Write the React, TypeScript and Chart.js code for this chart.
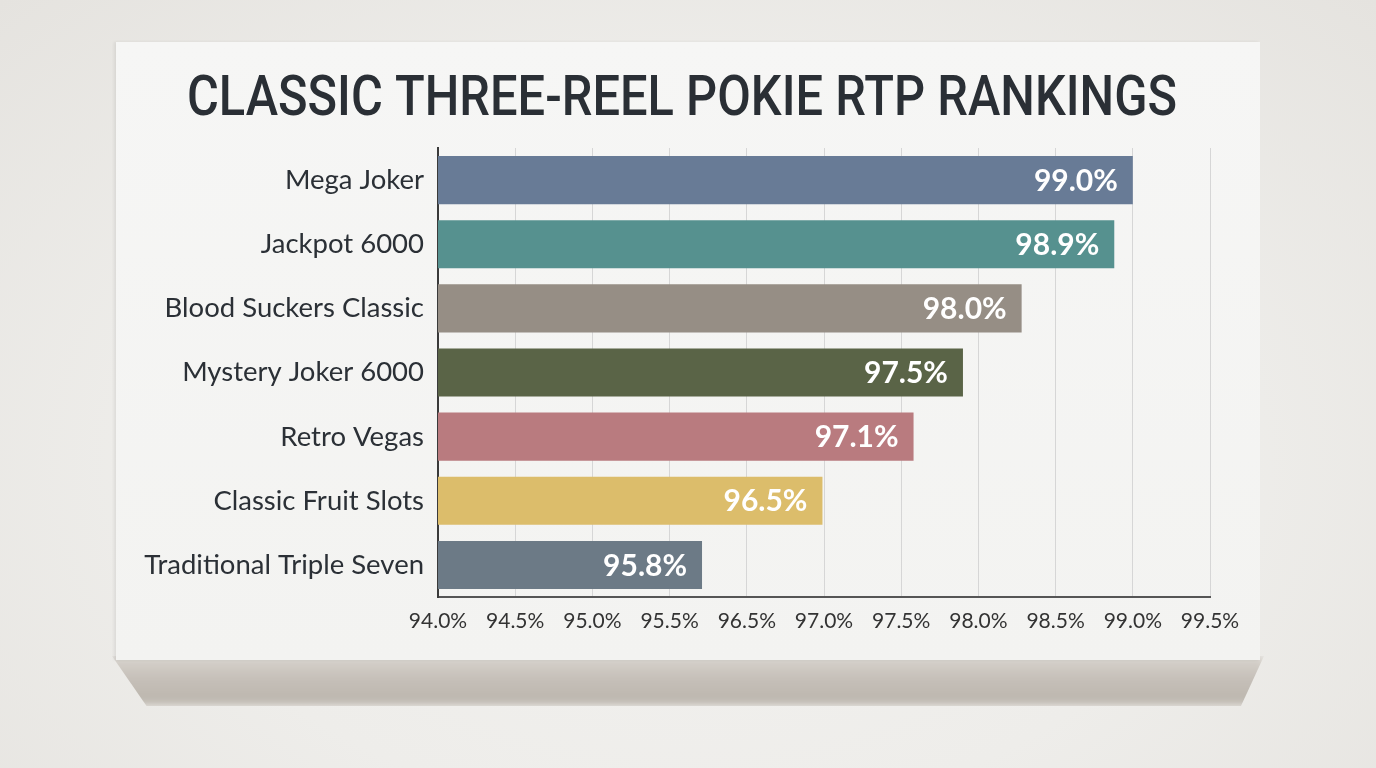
import React, { useEffect, useRef } from "react";
import { Chart, registerables } from "chart.js";

Chart.register(...registerables);

const TITLE = "CLASSIC THREE-REEL POKIE RTP RANKINGS";
const games = [
  "Mega Joker",
  "Jackpot 6000",
  "Blood Suckers Classic",
  "Mystery Joker 6000",
  "Retro Vegas",
  "Classic Fruit Slots",
  "Traditional Triple Seven",
];
// bar lengths as read against the axis gridlines
const barValues = [98.5, 98.38, 97.78, 97.4, 97.08, 96.49, 95.71];
// labels printed inside the bars
const rtpLabels = ["99.0%", "98.9%", "98.0%", "97.5%", "97.1%", "96.5%", "95.8%"];
const barColors = ["#687b96", "#56918f", "#968e85", "#5a6447", "#b97b7f", "#dcbd6b", "#6c7a86"];
// tick labels as printed under the axis
const tickLabels = ["94.0%", "94.5%", "95.0%", "95.5%", "96.5%", "97.0%", "97.5%", "98.0%", "98.5%", "99.0%", "99.5%"];
const axisMin = 94;
const axisMax = 99;
const axisStep = 0.5;

const CARD_W = 1144;
const CARD_H = 618;

const titlePlugin = {
  id: "condensedTitle",
  afterDraw(chart: any) {
    const ctx = chart.ctx;
    ctx.save();
    ctx.font = "500 56px Roboto";
    const w = ctx.measureText(TITLE).width;
    ctx.translate(566, 73);
    ctx.scale(990 / w, 1);
    ctx.textAlign = "center";
    ctx.textBaseline = "alphabetic";
    ctx.fillStyle = "#2a2f35";
    ctx.fillText(TITLE, 0, 0);
    ctx.restore();
  },
};

const valueLabelPlugin = {
  id: "valueLabels",
  afterDatasetsDraw(chart: any) {
    const ctx = chart.ctx;
    const meta = chart.getDatasetMeta(0);
    ctx.save();
    ctx.font = "bold 30px Lato";
    ctx.fillStyle = "#ffffff";
    ctx.textAlign = "right";
    ctx.textBaseline = "middle";
    meta.data.forEach((bar: any, i: number) => {
      ctx.fillText(rtpLabels[i], bar.x - 15, bar.y + 1);
    });
    ctx.restore();
  },
};

export default function App() {
  const ref = useRef<HTMLCanvasElement | null>(null);

  useEffect(() => {
    if (!ref.current) return;
    const chart = new Chart(ref.current, {
      type: "bar",
      data: {
        labels: games,
        datasets: [
          {
            data: barValues,
            backgroundColor: barColors,
            borderWidth: 0,
            barPercentage: 0.75,
            categoryPercentage: 1,
          },
        ],
      },
      options: {
        indexAxis: "y",
        responsive: false,
        animation: false,
        layout: { padding: { top: 106, right: 50, bottom: 0, left: 0 } },
        plugins: {
          legend: { display: false },
          tooltip: { enabled: false },
          title: { display: false },
        },
        scales: {
          x: {
            type: "linear",
            min: axisMin,
            max: axisMax,
            afterFit(scale: any) {
              scale.height = 63;
            },
            ticks: {
              stepSize: axisStep,
              callback: (_v: any, i: number) => tickLabels[i],
              font: { family: "Lato", size: 21 },
              color: "#333333",
              padding: 12,
              maxRotation: 0,
            },
            grid: { color: "#d6d6d6", lineWidth: 1, drawTicks: false },
            border: { display: true, color: "#555555", width: 2 },
          },
          y: {
            type: "category",
            afterFit(scale: any) {
              scale.width = 322;
            },
            ticks: {
              font: { family: "Lato", size: 27.5 },
              color: "#2b3036",
              padding: 14,
            },
            grid: { display: false, drawTicks: false },
            border: { display: true, color: "#3a3a3a", width: 2 },
          },
        },
      },
      plugins: [titlePlugin, valueLabelPlugin],
    });
    return () => chart.destroy();
  }, []);

  return (
    <div
      style={{
        position: "fixed",
        left: 0,
        top: 0,
        width: 1376,
        height: 768,
        overflow: "hidden",
        background: "radial-gradient(ellipse at 50% 60%, #f3f2f0 0%, #eeedea 55%, #e5e3df 100%)",
      }}
    >
      <div
        style={{
          position: "absolute",
          left: 112,
          top: 656,
          width: 1152,
          height: 50,
          background: "linear-gradient(to bottom, #d8d4ce 0%, #c6c0b9 45%, #bdb7af 85%, #cdc8c2 100%)",
          clipPath: "polygon(0 0, 100% 0, 98% 100%, 3% 100%)",
          filter: "blur(3px)",
        }}
      />
      <div
        style={{
          position: "absolute",
          left: 116,
          top: 42,
          width: CARD_W,
          height: CARD_H,
          background: "linear-gradient(to bottom, #f6f6f5 0%, #f3f3f1 100%)",
          boxShadow: "-2px 0 3px rgba(0,0,0,0.07)",
        }}
      >
        <canvas ref={ref} width={CARD_W} height={CARD_H} style={{ display: "block" }} />
      </div>
    </div>
  );
}
